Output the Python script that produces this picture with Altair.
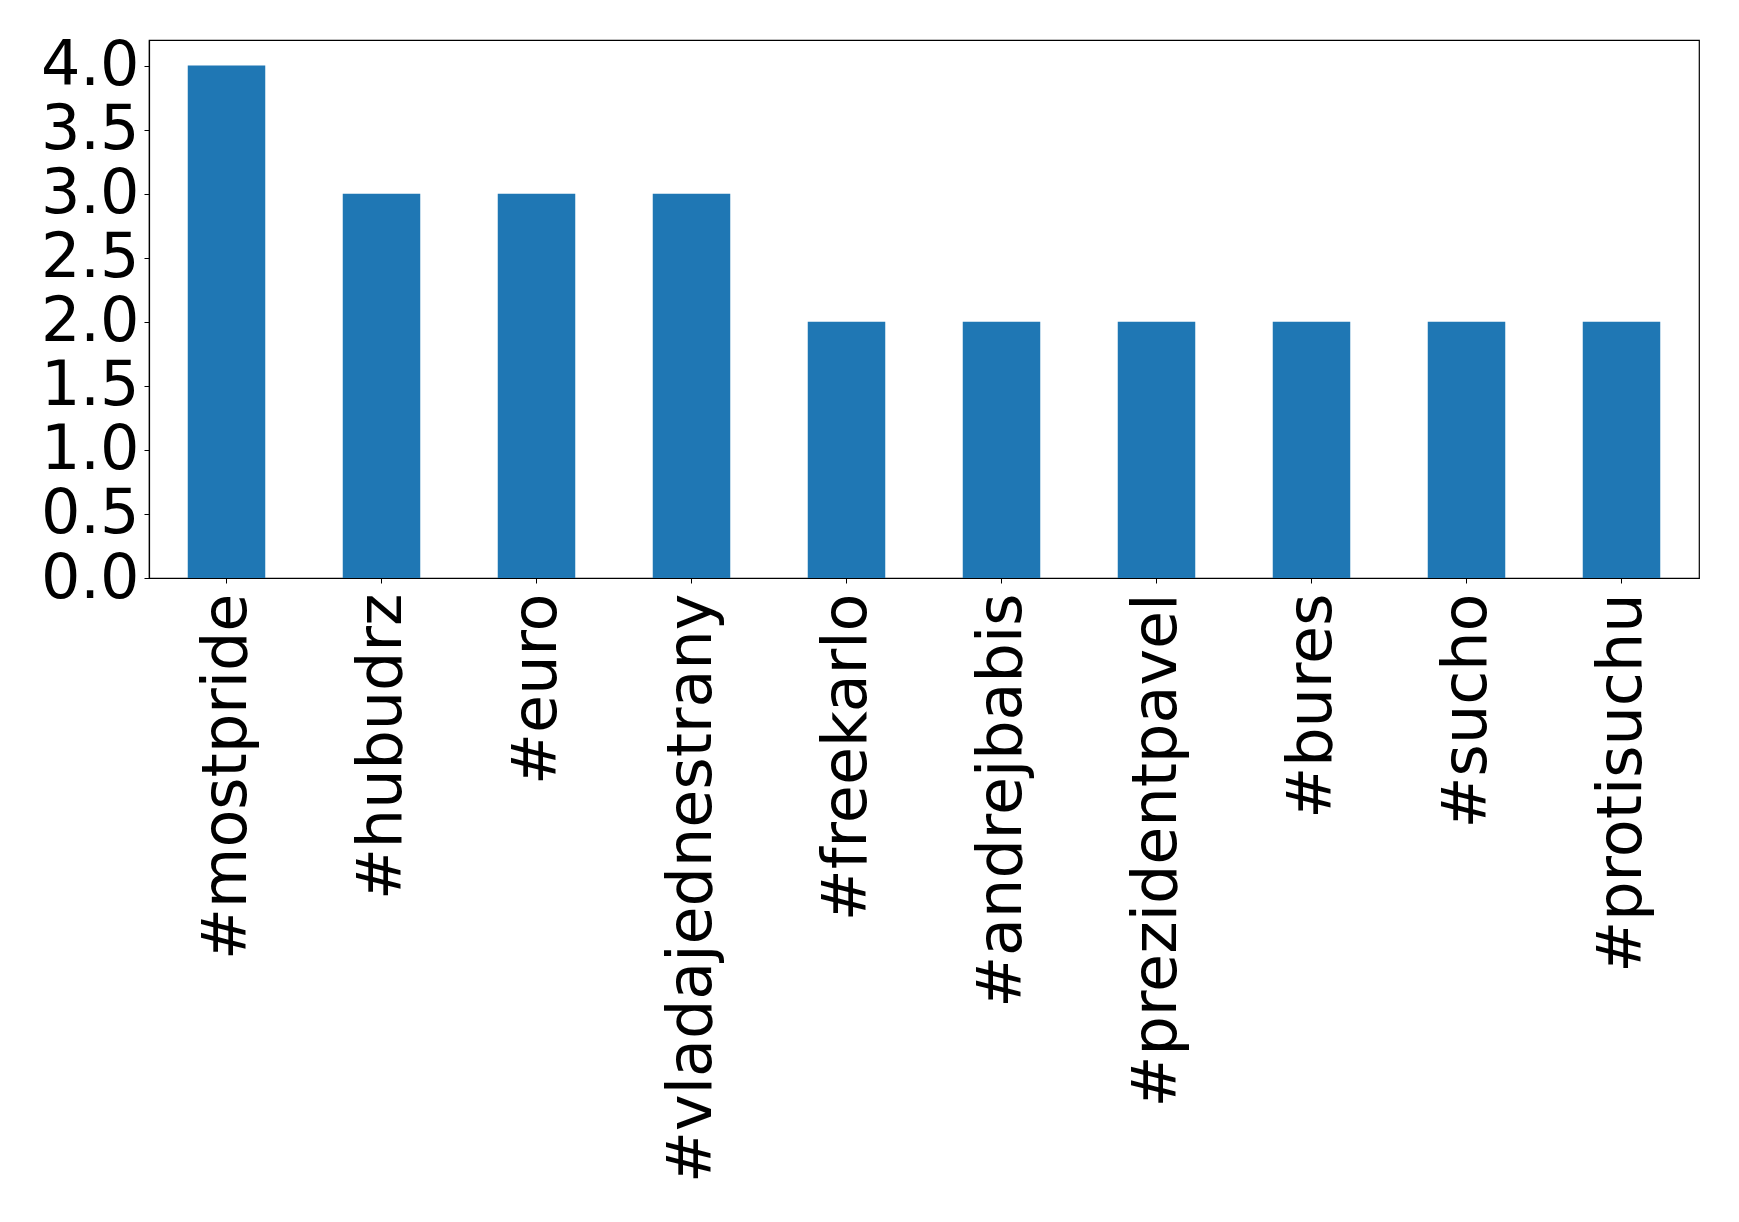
import altair as alt
import pandas as pd

hashtags = ["#mostpride", "#hubudrz", "#euro", "#vladajednestrany", "#freekarlo",
            "#andrejbabis", "#prezidentpavel", "#bures", "#sucho", "#protisuchu"]
counts = [4, 3, 3, 3, 2, 2, 2, 2, 2, 2]
y_ticks = [0.0, 0.5, 1.0, 1.5, 2.0, 2.5, 3.0, 3.5, 4.0]

df = pd.DataFrame({"tag": hashtags, "count": counts})

chart = alt.Chart(df).mark_bar(color="#1f77b4").encode(
    x=alt.X("tag:N", sort=hashtags, title=None,
            scale=alt.Scale(paddingInner=0.5, paddingOuter=0.25),
            axis=alt.Axis(labelAngle=-90, labelFontSize=62, labelFont="DejaVu Sans",
                          labelColor="black", tickColor="black", tickSize=5,
                          labelPadding=10, domainColor="black", domainWidth=1.2,
                          labelLimit=0)),
    y=alt.Y("count:Q", title=None,
            scale=alt.Scale(domain=[0, 4.2], nice=False, zero=True),
            axis=alt.Axis(values=y_ticks, format=".1f", labelFontSize=62,
                          labelFont="DejaVu Sans", labelColor="black",
                          tickColor="black", tickSize=5, labelPadding=5,
                          domainColor="black", domainWidth=1.2, grid=False,
                          labelBaseline="middle")),
).properties(
    width=1550, height=538,
    autosize=alt.AutoSizeParams(type="none"),
    padding={"left": 141, "top": 32, "right": 30, "bottom": 630},
).configure_view(stroke="black", strokeWidth=1.2)

chart.save("out.html", embed_options={"renderer": "svg", "actions": False})
